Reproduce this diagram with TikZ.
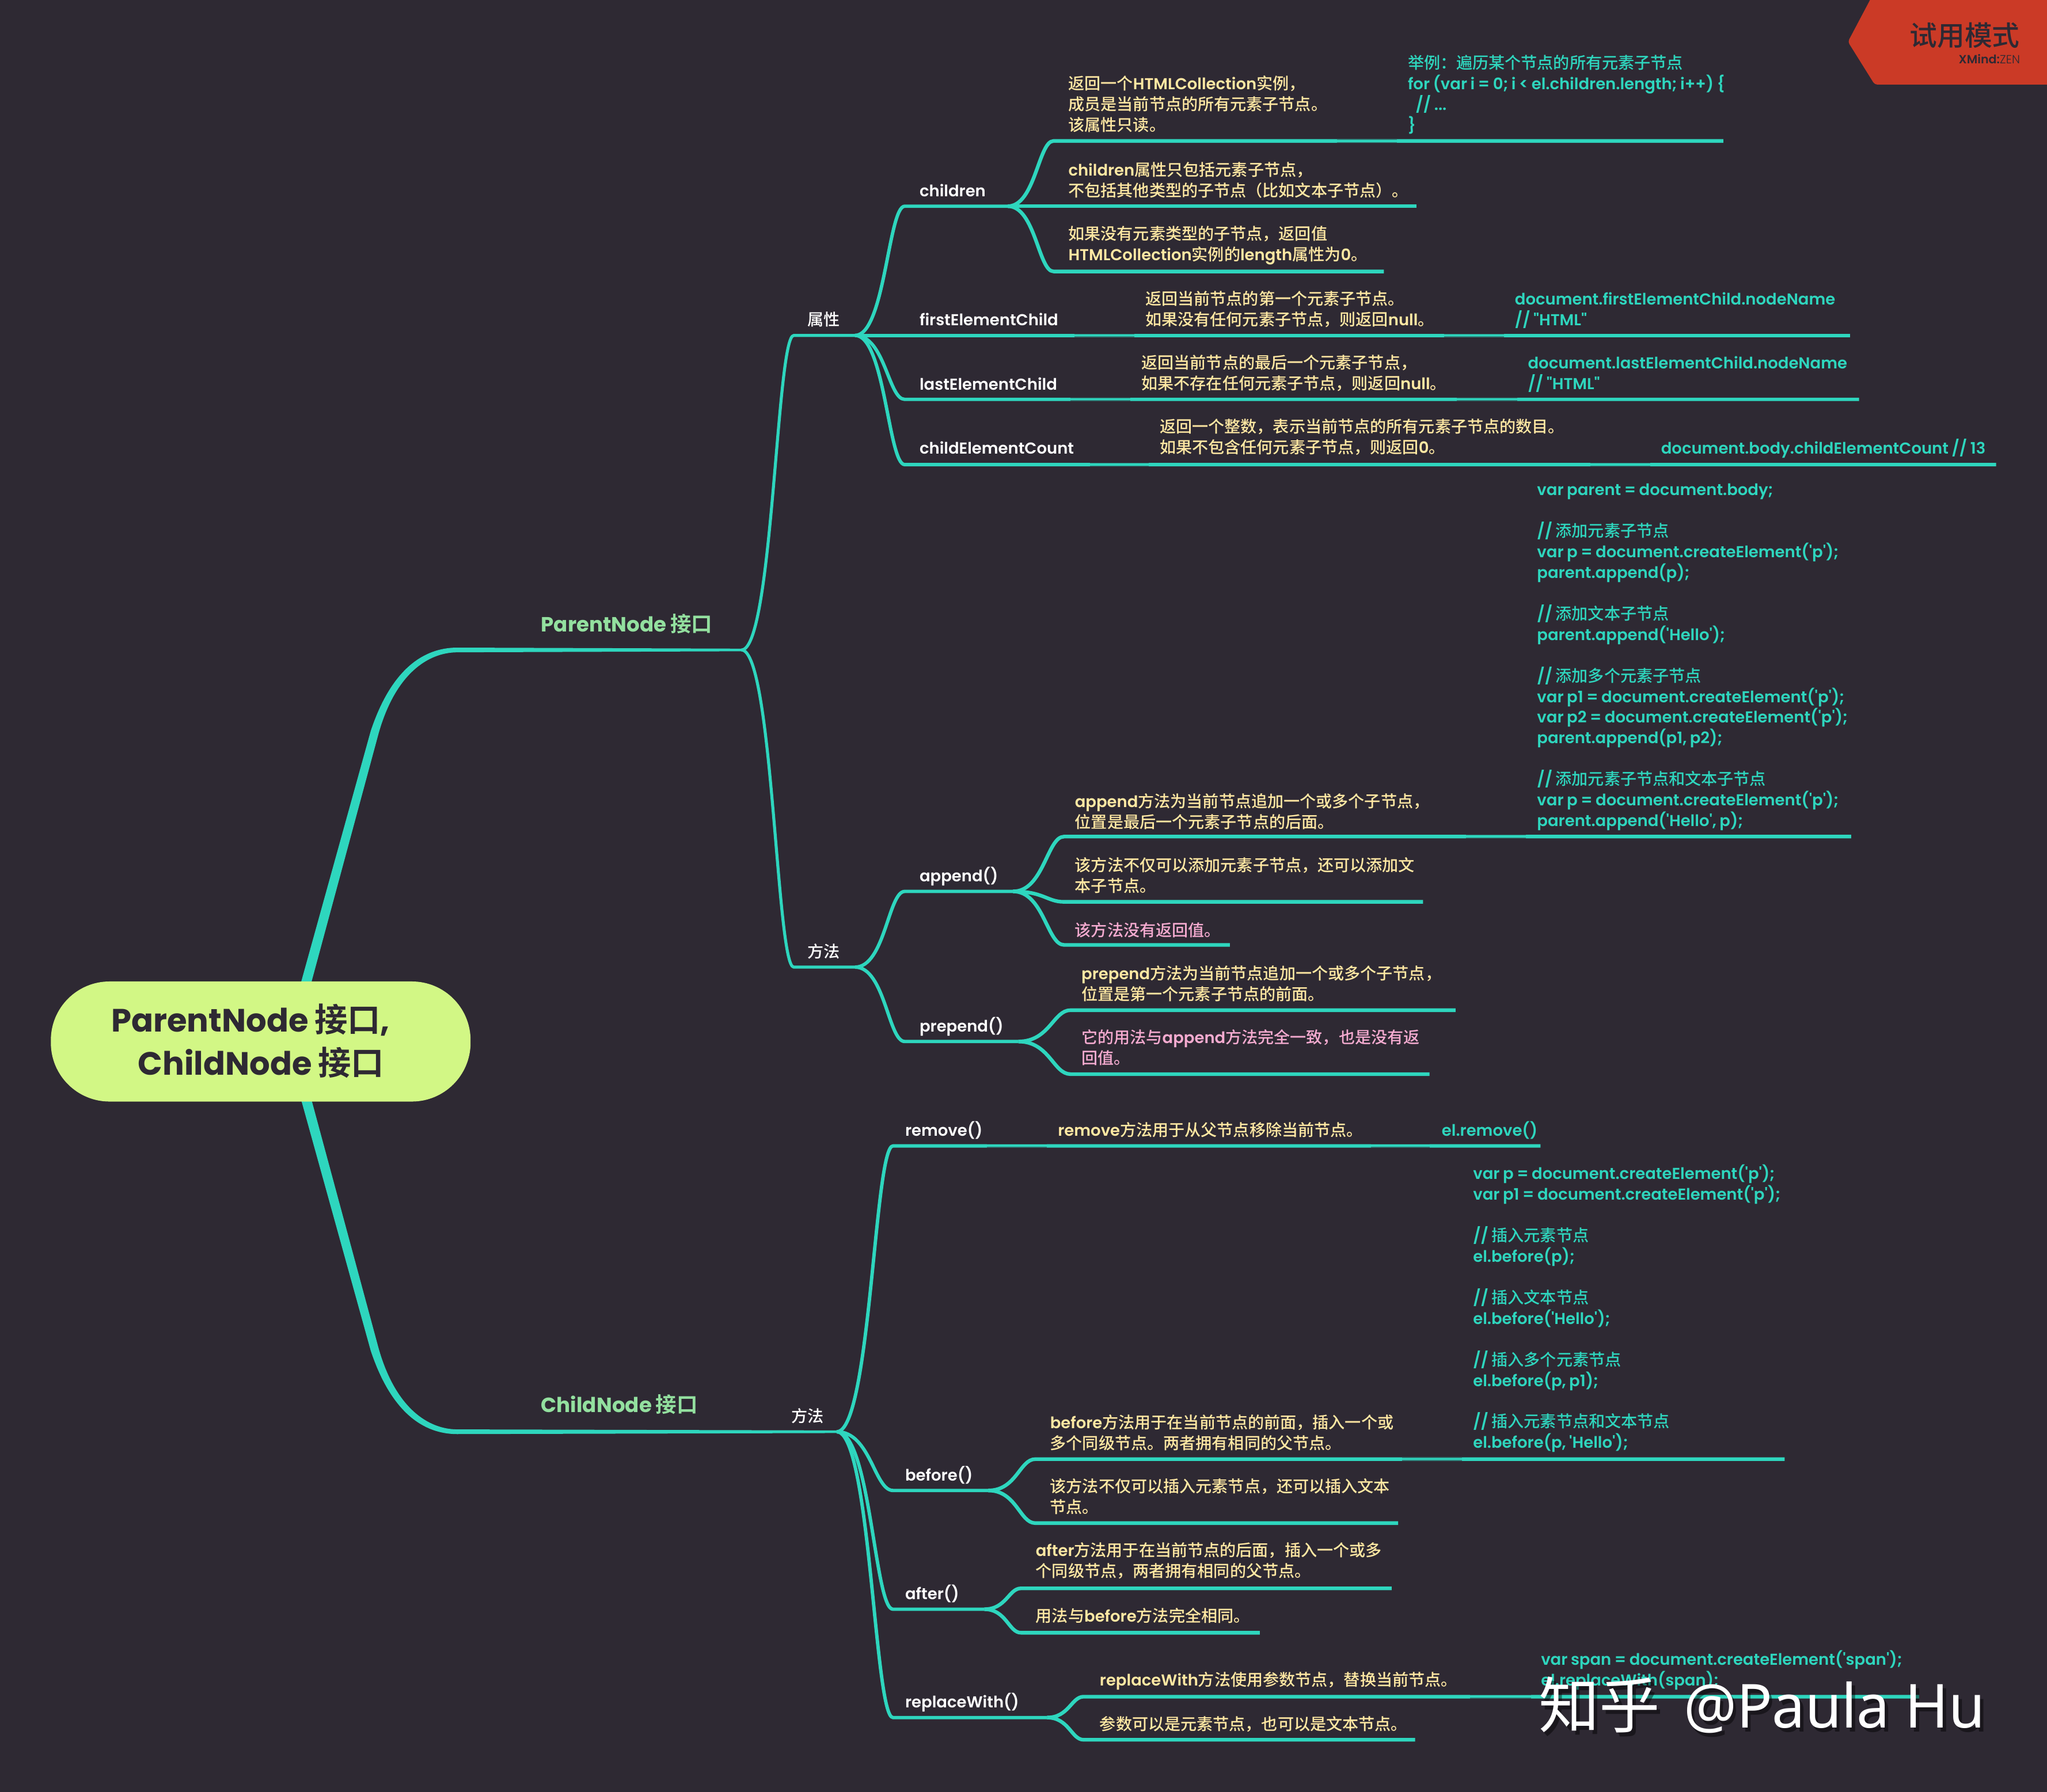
\documentclass[tikz,border=0pt]{standalone}
\usepackage{fontspec}
\usetikzlibrary{calc}
\newfontfamily\latf{Poppins SemiBold}[BoldFont={Poppins Bold},WordSpace=0.85,Scale=1.01]
\newfontfamily\cjkf{Noto Sans CJK SC Medium}[BoldFont={Noto Sans CJK SC Bold},Scale=1.033]
\newfontfamily\wmcjk{Noto Sans CJK SC}
\newfontfamily\wmlat{Noto Sans}[FakeStretch=0.97]
\newfontfamily\zenf{Poppins Light}
\XeTeXinterchartokenstate=1
\newXeTeXintercharclass\cjkc
\newcount\cc
\cc="3000 \loop\ifnum\cc<"3040 \XeTeXcharclass\cc=\cjkc \advance\cc by 1 \repeat
\cc="4E00 \loop\ifnum\cc<"A000 \XeTeXcharclass\cc=\cjkc \advance\cc by 1 \repeat
\cc="FF00 \loop\ifnum\cc<"FF60 \XeTeXcharclass\cc=\cjkc \advance\cc by 1 \repeat
\XeTeXinterchartoks 0 \cjkc = {\cjkf}
\XeTeXinterchartoks 4095 \cjkc = {\cjkf}
\XeTeXinterchartoks \cjkc 0 = {\latf}
\XeTeXinterchartoks 4095 0 = {\latf}
\definecolor{bgc}{HTML}{2E2933}
\definecolor{teal}{HTML}{2ED6BE}
\definecolor{yel}{HTML}{FFE8A3}
\definecolor{pnk}{HTML}{F5ABD0}
\definecolor{grn}{HTML}{93E09F}
\definecolor{rootc}{HTML}{D2F785}
\definecolor{redc}{HTML}{CB3A26}
\tikzset{
 lv2/.style={draw=teal,line width=2.3pt,line join=round},
 lv3/.style={draw=teal,line width=2.6pt,line join=round},
 lv4/.style={draw=teal,line width=2.8pt,line join=round},
 seamline/.style={draw=bgc,draw opacity=0.45,line width=0.7pt},
 base/.style={inner sep=0pt,outer sep=0pt,align=left,font=\fontsize{12}{15.85}\selectfont\latf},
 wh/.style={base,text=white},
 yl/.style={base,text=yel},
 cy/.style={base,text=teal},
 pk/.style={base,text=pnk},
 gr/.style={base,text=grn,font=\fontsize{15.6}{20}\selectfont\bfseries\latf},
 rt/.style={anchor=base west,inner sep=0pt,text=bgc,font=\fontsize{24.5}{33}\selectfont\bfseries\latf},
}
% #1 style, #2 parent, #3 name, #4 start x, #5 y, #6 end x
\newcommand{\topic}[6]{%
 \coordinate (#3-s) at (#4,#5);
 \coordinate (#3-e) at (#6,#5);
 \draw[#1] let \p1=(#2),\p2=(#3-s) in (\p1) .. controls ({\x1+0.6*(\x2-\x1)},\y1) and ({\x1+0.67*(\x2-\x1)},\y2) .. (\p2) -- (#3-e);
}
% #1 style, #2 name, #3 x, #4 centre y of first line, #5 text
\newcommand{\lbl}[5]{\node[#1,anchor=north west] (#2) at ({#3+0.4},{#4-7.4}) {\rule{0pt}{12pt}#5};}
% dim edges where two underlines join: #1 x1, #2 x2, #3 y
\newcommand{\seam}[3]{\draw[seamline] (#1,{#3+1.1}) -- (#2,{#3+1.1});\draw[seamline,line width=0.4pt] (#1,{#3-1.2}) -- (#2,{#3-1.2});}
\begin{document}
\begin{tikzpicture}[x=1pt,y=-1pt]
\useasboundingbox (0,0) rectangle (1568,1373);
\fill[bgc] (0,0) rectangle (1568,1373);
% anchors
\coordinate (rootc) at (200,798);
\coordinate (pn-s) at (350,498);
\coordinate (pn-e) at (568,498);
\coordinate (cn-s) at (350,1097);
\coordinate (cn-e) at (641,1097);
% main tapered branches
\fill[teal] (rootc) -- (228,762) -- (284,560) .. controls (300,512) and (325,496.3) .. ([yshift=1.8pt]pn-s) -- ([yshift=1pt]pn-e) -- ([yshift=-1pt]pn-e) -- ([yshift=-1.8pt]pn-s) .. controls (328,500) and (303,516) .. (290,562) -- (236,762) -- cycle;
\fill[teal] (rootc) -- (228,833) -- (284,1035) .. controls (300,1083) and (325,1098.7) .. ([yshift=-1.8pt]cn-s) -- ([yshift=-1pt]cn-e) -- ([yshift=1pt]cn-e) -- ([yshift=1.8pt]cn-s) .. controls (328,1095) and (303,1079) .. (290,1033) -- (236,833) -- cycle;
% root
\node[fill=rootc,rounded corners=45pt,minimum width=321.5pt,minimum height=92pt,inner sep=0pt] (root) at (199.7,798) {};
\node[rt] (t1) at (85,790.5) {ParentNode 接口,};
\node[rt] (t2) at (105.5,823.5) {ChildNode 接口};
% ParentNode
\lbl{gr}{pnl}{414}{478}{ParentNode 接口}
\topic{lv2}{pn-e}{sx}{608}{257}{655}
\lbl{wh}{sxl}{618}{245}{属性}
\topic{lv3}{sx-e}{ch}{693}{158}{772}
\lbl{wh}{chl}{704}{146}{children}
\topic{lv4}{ch-e}{c1}{807}{108}{1320}
\lbl{yl}{c1l}{818}{64}{返回一个HTMLCollection实例，\\成员是当前节点的所有元素子节点。\\该属性只读。}
\lbl{cy}{c1c}{1078}{48}{举例：遍历某个节点的所有元素子节点\\for (var i = 0; i < el.children.length; i++) \{\\\hspace*{6pt}// ...\\\}}
\seam{1024}{1070}{108}
\topic{lv4}{ch-e}{c2}{807}{158}{1085}
\lbl{yl}{c2l}{818}{130}{children属性只包括元素子节点，\\不包括其他类型的子节点（比如文本子节点）。}
\topic{lv4}{ch-e}{c3}{807}{208}{1060}
\lbl{yl}{c3l}{818}{179}{如果没有元素类型的子节点，返回值\\HTMLCollection实例的length属性为0。}
\topic{lv3}{sx-e}{fe}{693}{257}{1417}
\lbl{wh}{fel}{704}{245}{firstElementChild}
\lbl{yl}{fet}{877}{229}{返回当前节点的第一个元素子节点。\\如果没有任何元素子节点，则返回null。}
\lbl{cy}{fec}{1160}{229}{document.firstElementChild.nodeName\\// "HTML"}
\seam{823}{869}{257}\seam{1106}{1152}{257}
\topic{lv3}{sx-e}{le}{693}{306}{1424}
\lbl{wh}{lel}{704}{294}{lastElementChild}
\lbl{yl}{let}{874}{278}{返回当前节点的最后一个元素子节点，\\如果不存在任何元素子节点，则返回null。}
\lbl{cy}{lec}{1170}{278}{document.lastElementChild.nodeName\\// "HTML"}
\seam{820}{866}{306}\seam{1116}{1162}{306}
\topic{lv3}{sx-e}{cc}{693}{356}{1529}
\lbl{wh}{ccl}{704}{343}{childElementCount}
\lbl{yl}{cct}{888}{327}{返回一个整数，表示当前节点的所有元素子节点的数目。\\如果不包含任何元素子节点，则返回0。}
\lbl{cy}{ccc}{1272}{343}{document.body.childElementCount // 13}
\seam{835}{880}{356}\seam{1218}{1264}{356}
\topic{lv2}{pn-e}{ff}{608}{741}{655}
\lbl{wh}{ffl}{618}{729}{方法}
\topic{lv3}{ff-e}{ap}{693}{683}{776}
\lbl{wh}{apl}{704}{671}{append()}
\topic{lv4}{ap-e}{a1}{815}{641}{1418}
\lbl{yl}{a1l}{823}{614}{append方法为当前节点追加一个或多个子节点，\\位置是最后一个元素子节点的后面。}
\lbl{cy}{a1c}{1177}{375}{var parent = document.body;\\[15.85pt]// 添加元素子节点\\var p = document.createElement('p');\\parent.append(p);\\[15.85pt]// 添加文本子节点\\parent.append('Hello');\\[15.85pt]// 添加多个元素子节点\\var p1 = document.createElement('p');\\var p2 = document.createElement('p');\\parent.append(p1, p2);\\[15.85pt]// 添加元素子节点和文本子节点\\var p = document.createElement('p');\\parent.append('Hello', p);}
\seam{1123}{1169}{641}
\topic{lv4}{ap-e}{a2}{815}{691}{1090}
\lbl{yl}{a2l}{823}{663}{该方法不仅可以添加元素子节点，还可以添加文\\本子节点。}
\topic{lv4}{ap-e}{a3}{815}{724}{942}
\lbl{pk}{a3l}{823}{713}{该方法没有返回值。}
\topic{lv3}{ff-e}{pp}{693}{798}{780}
\lbl{wh}{ppl}{704}{786}{prepend()}
\topic{lv4}{pp-e}{p1}{820}{774}{1115}
\lbl{yl}{p1l}{828}{746}{prepend方法为当前节点追加一个或多个子节点，\\位置是第一个元素子节点的前面。}
\topic{lv4}{pp-e}{p2}{820}{823}{1095}
\lbl{pk}{p2l}{828}{795}{它的用法与append方法完全一致，也是没有返\\回值。}
% ChildNode
\lbl{gr}{cnl}{414}{1076}{ChildNode 接口}
\lbl{wh}{cfl}{606}{1085}{方法}
\topic{lv3}{cn-e}{rm}{684}{878}{1180}
\lbl{wh}{rml}{693}{866}{remove()}
\lbl{yl}{rmt}{810}{866}{remove方法用于从父节点移除当前节点。}
\lbl{cy}{rmc}{1104}{866}{el.remove()}
\seam{756}{802}{878}\seam{1050}{1095}{878}
\topic{lv3}{cn-e}{bf}{684}{1142}{757}
\lbl{wh}{bfl}{693}{1130}{before()}
\topic{lv4}{bf-e}{b1}{793}{1118}{1367}
\lbl{yl}{b1l}{804}{1090}{before方法用于在当前节点的前面，插入一个或\\多个同级节点。两者拥有相同的父节点。}
\lbl{cy}{b1c}{1128}{899}{var p = document.createElement('p');\\var p1 = document.createElement('p');\\[15.85pt]// 插入元素节点\\el.before(p);\\[15.85pt]// 插入文本节点\\el.before('Hello');\\[15.85pt]// 插入多个元素节点\\el.before(p, p1);\\[15.85pt]// 插入元素节点和文本节点\\el.before(p, 'Hello');}
\seam{1074}{1120}{1118}
\topic{lv4}{bf-e}{b2}{793}{1167}{1071}
\lbl{yl}{b2l}{804}{1139}{该方法不仅可以插入元素节点，还可以插入文本\\节点。}
\topic{lv3}{cn-e}{af}{684}{1233}{754}
\lbl{wh}{afl}{693}{1221}{after()}
\topic{lv4}{af-e}{f1}{782}{1217}{1066}
\lbl{yl}{f1l}{793}{1188}{after方法用于在当前节点的后面，插入一个或多\\个同级节点，两者拥有相同的父节点。}
\topic{lv4}{af-e}{f2}{782}{1251}{965}
\lbl{yl}{f2l}{793}{1238}{用法与before方法完全相同。}
\topic{lv3}{cn-e}{rw}{684}{1316}{802}
\lbl{wh}{rwl}{693}{1304}{replaceWith()}
\topic{lv4}{rw-e}{r1}{830}{1300}{1470}
\lbl{yl}{r1l}{842}{1287}{replaceWith方法使用参数节点，替换当前节点。}
\lbl{cy}{r1c}{1180}{1271}{var span = document.createElement('span');\\el.replaceWith(span);}
\seam{1126}{1173}{1300}
\topic{lv4}{rw-e}{r2}{830}{1333}{1084}
\lbl{yl}{r2l}{842}{1321}{参数可以是元素节点，也可以是文本节点。}
% badge
\fill[redc,rounded corners=2pt] (1434,-3) -- (1570,-3) -- (1570,64.8) -- (1436,64.8) -- (1415.5,32) -- cycle;
\node[inner sep=0pt,text=bgc,font=\fontsize{20.4}{24}\selectfont\cjkf] (bd) at (1505,27) {试用模式};
\node[inner sep=0pt,anchor=east,text=bgc,font=\fontsize{9}{10}\selectfont] (bd2) at (1547.5,45) {\XeTeXinterchartokenstate=0 \latf XMind:\zenf ZEN};
% watermark
\node[inner sep=0pt,anchor=base west,text=black,text opacity=0.45,font=\fontsize{46.5}{50}\selectfont] (wms) at (1181,1327) {\XeTeXinterchartokenstate=0 \wmcjk 知乎\hspace{18pt}\wmlat @Paula Hu};
\node[inner sep=0pt,anchor=base west,text=white,font=\fontsize{46.5}{50}\selectfont] (wm) at (1178.5,1324) {\XeTeXinterchartokenstate=0 \wmcjk 知乎\hspace{18pt}\wmlat @Paula Hu};
\end{tikzpicture}
\end{document}
